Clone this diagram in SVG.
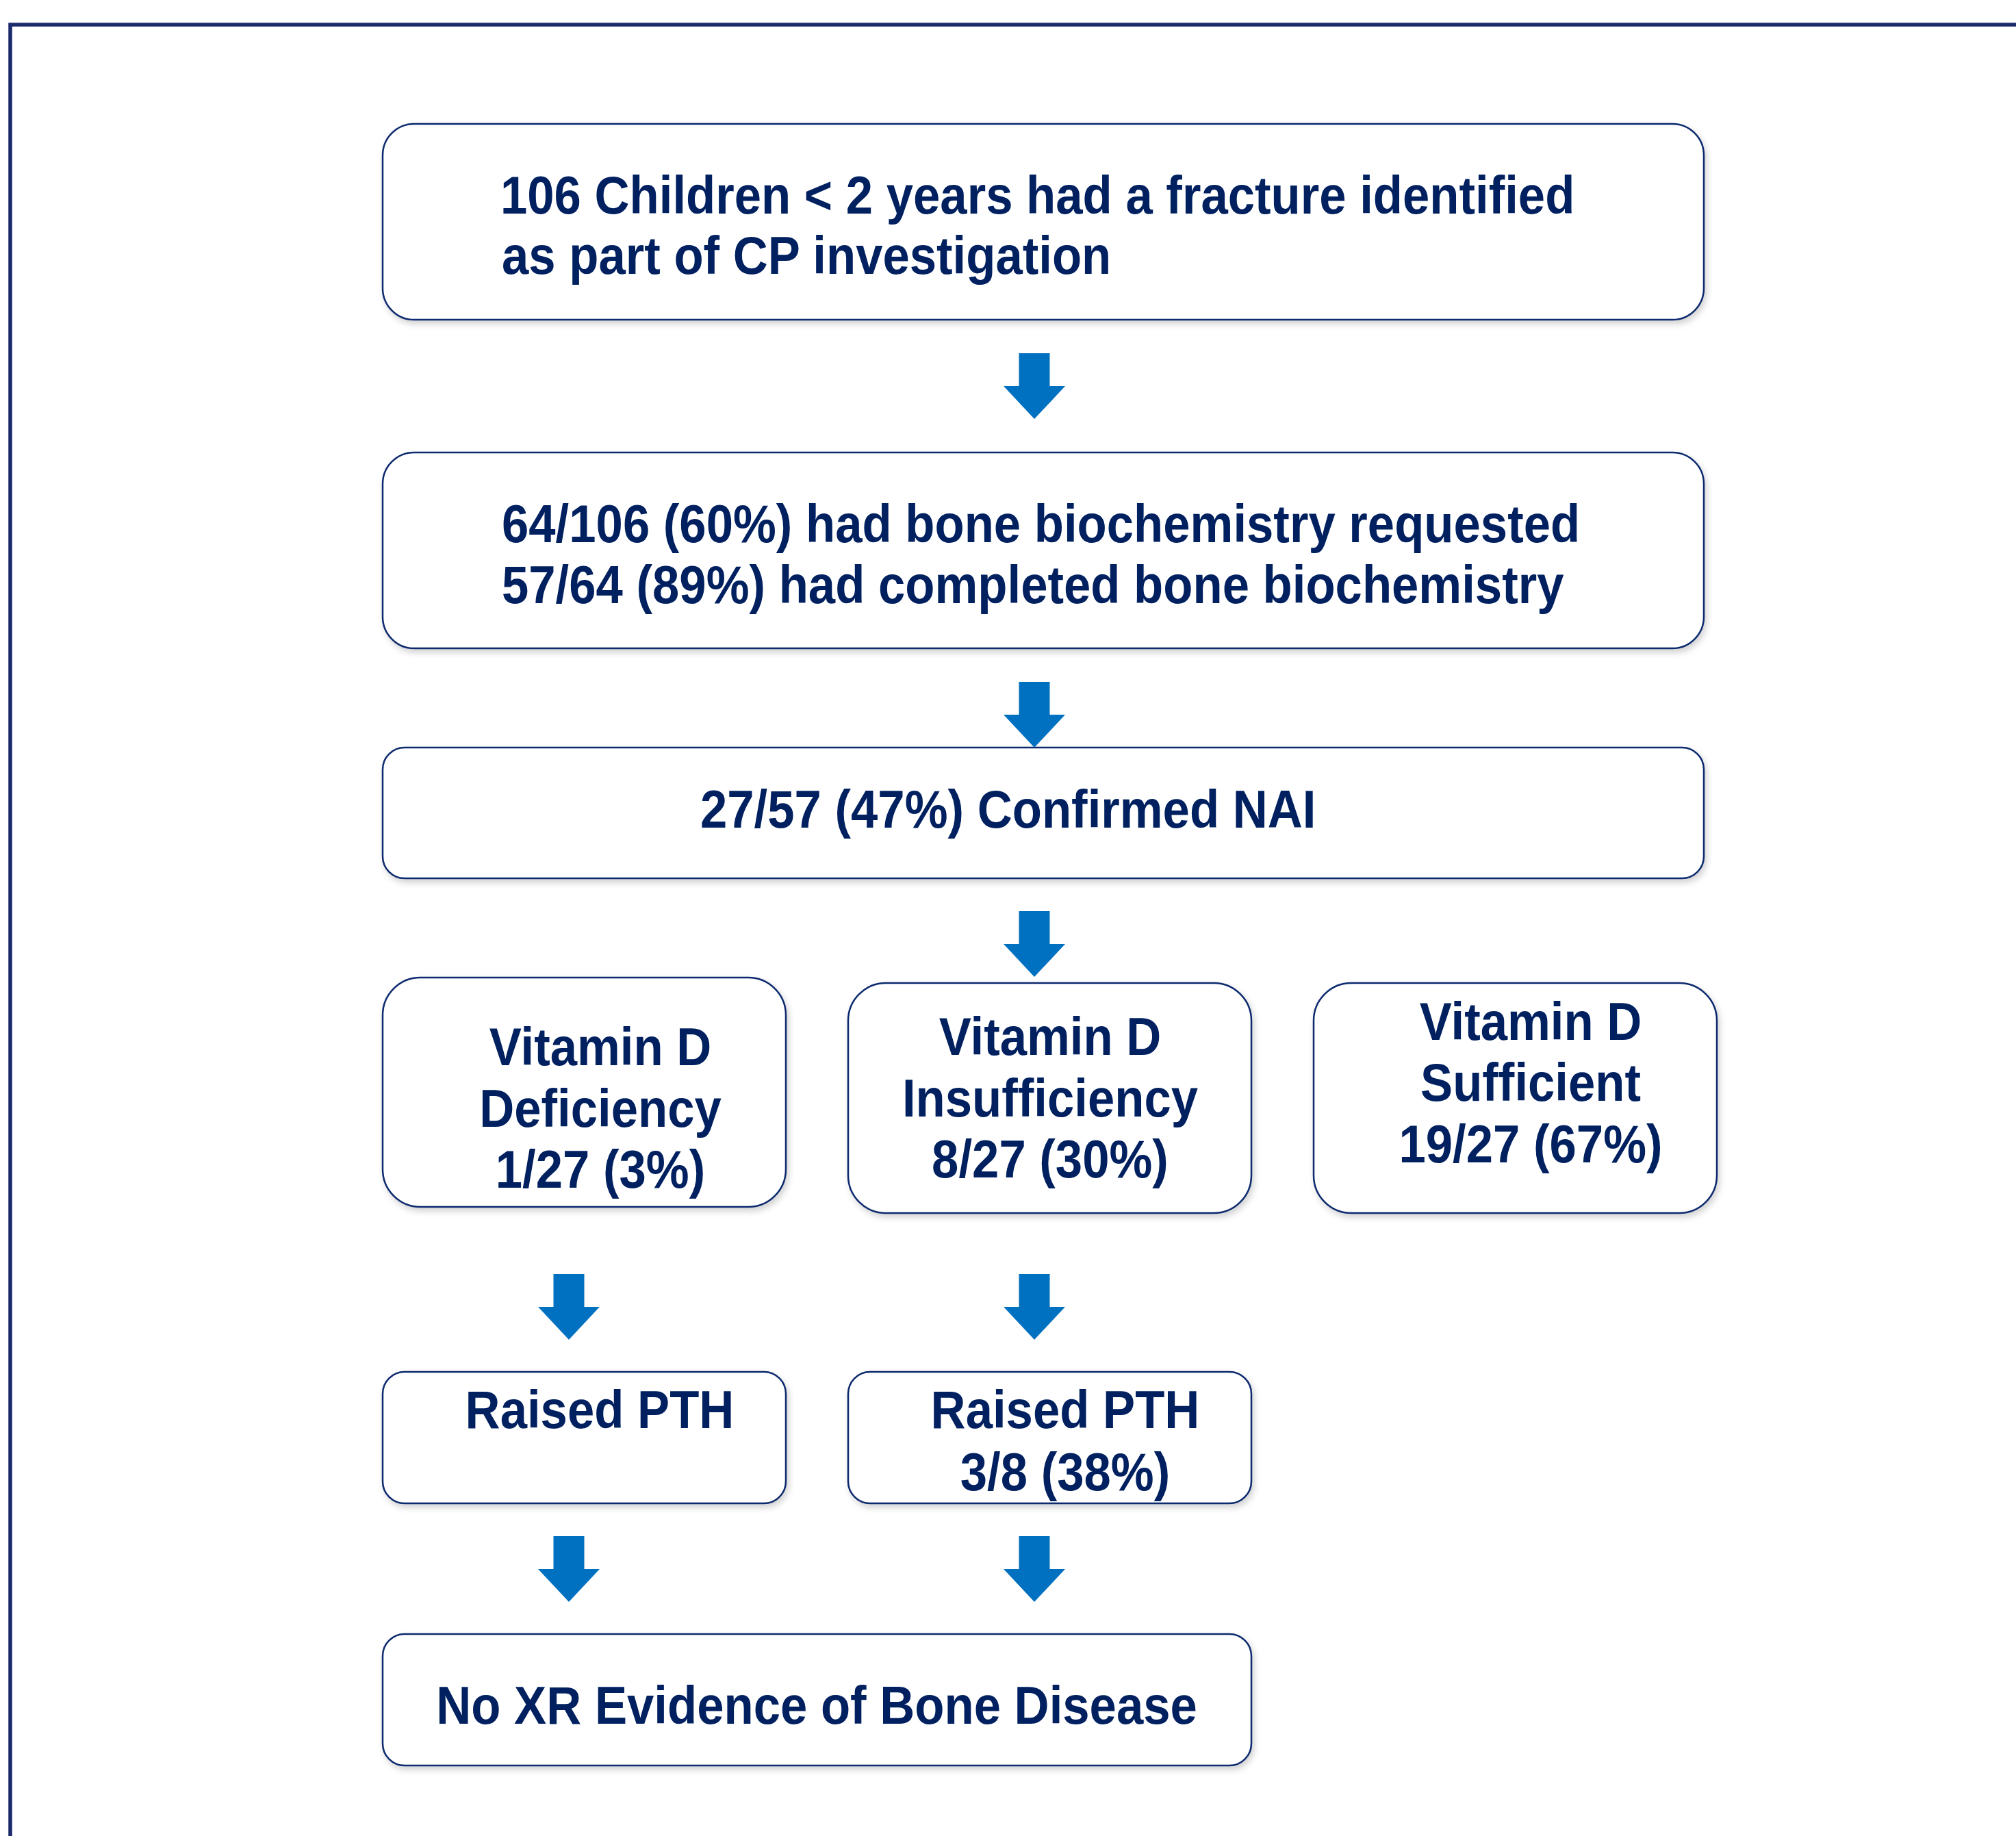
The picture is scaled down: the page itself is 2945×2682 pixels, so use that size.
<svg xmlns="http://www.w3.org/2000/svg" width="2945" height="2682" viewBox="0 0 2945 2682">
<defs>
<style>
.box{fill:#ffffff;stroke:#0b2a6e;stroke-width:2.5;filter:url(#sh)}
.t{font-family:"Liberation Sans",Arial,sans-serif;font-weight:bold;font-size:77px;fill:#002060}
.c{text-anchor:middle}
.arrow{fill:#0070c0}
</style>
<filter id="sh" x="-5%" y="-10%" width="115%" height="130%">
<feDropShadow dx="3" dy="5" stdDeviation="5" flood-color="#000" flood-opacity="0.18"/>
</filter>
</defs>
<rect x="0" y="0" width="2945" height="2682" fill="#ffffff"/>
<rect x="15" y="36" width="3000" height="2800" fill="none" stroke="#1b2a6b" stroke-width="5.5"/>

<g id="n1">
<rect class="box" x="559" y="181" width="1930" height="286" rx="46"/>
<text class="t" transform="translate(731 0) scale(0.918 1)" x="0" y="312">106 Children &lt; 2 years had a fracture identified</text>
<text class="t" transform="translate(733 0) scale(0.918 1)" x="0" y="400">as part of CP investigation</text>
</g>
<g id="n2">
<rect class="box" x="559" y="661" width="1930" height="286" rx="46"/>
<text class="t" transform="translate(733 0) scale(0.918 1)" x="0" y="792">64/106 (60%) had bone biochemistry requested</text>
<text class="t" transform="translate(733 0) scale(0.918 1)" x="0" y="881">57/64 (89%) had completed bone biochemistry</text>
</g>
<g id="n3">
<rect class="box" x="559" y="1092" width="1930" height="191" rx="32"/>
<text class="t" transform="translate(1023 0) scale(0.918 1)" x="0" y="1209">27/57 (47%) Confirmed NAI</text>
</g>
<g id="n4">
<rect class="box" x="559" y="1428" width="589" height="335" rx="55"/>
<text class="t c" transform="translate(877 0) scale(0.918 1)" x="0" y="1556">Vitamin D</text>
<text class="t c" transform="translate(877 0) scale(0.918 1)" x="0" y="1646">Deficiency</text>
<text class="t c" transform="translate(877 0) scale(0.918 1)" x="0" y="1735">1/27 (3%)</text>
</g>
<g id="n5">
<rect class="box" x="1239" y="1436" width="589" height="336" rx="55"/>
<text class="t c" transform="translate(1534 0) scale(0.918 1)" x="0" y="1541">Vitamin D</text>
<text class="t c" transform="translate(1534 0) scale(0.918 1)" x="0" y="1631">Insufficiency</text>
<text class="t c" transform="translate(1534 0) scale(0.918 1)" x="0" y="1720">8/27 (30%)</text>
</g>
<g id="n6">
<rect class="box" x="1919" y="1436" width="589" height="336" rx="55"/>
<text class="t c" transform="translate(2236 0) scale(0.918 1)" x="0" y="1519">Vitamin D</text>
<text class="t c" transform="translate(2236 0) scale(0.918 1)" x="0" y="1608">Sufficient</text>
<text class="t c" transform="translate(2236 0) scale(0.918 1)" x="0" y="1698">19/27 (67%)</text>
</g>
<g id="n7">
<rect class="box" x="559" y="2004" width="589" height="192" rx="32"/>
<text class="t c" transform="translate(876 0) scale(0.918 1)" x="0" y="2086">Raised PTH</text>
</g>
<g id="n8">
<rect class="box" x="1239" y="2004" width="589" height="192" rx="32"/>
<text class="t c" transform="translate(1556 0) scale(0.918 1)" x="0" y="2086">Raised PTH</text>
<text class="t c" transform="translate(1556 0) scale(0.918 1)" x="0" y="2177">3/8 (38%)</text>
</g>
<g id="n9">
<rect class="box" x="559" y="2387" width="1269" height="192" rx="32"/>
<text class="t c" transform="translate(1193 0) scale(0.918 1)" x="0" y="2518">No XR Evidence of Bone Disease</text>
</g>

<g id="connectors">
<path class="arrow" d="M1488.5 516 H1533.5 V564 H1556 L1511 612 L1466 564 H1488.5 Z"/>
<path class="arrow" d="M1488.5 996 H1533.5 V1044 H1556 L1511 1092 L1466 1044 H1488.5 Z"/>
<path class="arrow" d="M1488.5 1331 H1533.5 V1379 H1556 L1511 1427 L1466 1379 H1488.5 Z"/>
<path class="arrow" d="M808.5 1861 H853.5 V1909 H876 L831 1957 L786 1909 H808.5 Z"/>
<path class="arrow" d="M1488.5 1861 H1533.5 V1909 H1556 L1511 1957 L1466 1909 H1488.5 Z"/>
<path class="arrow" d="M808.5 2244 H853.5 V2292 H876 L831 2340 L786 2292 H808.5 Z"/>
<path class="arrow" d="M1488.5 2244 H1533.5 V2292 H1556 L1511 2340 L1466 2292 H1488.5 Z"/>
</g>
</svg>
